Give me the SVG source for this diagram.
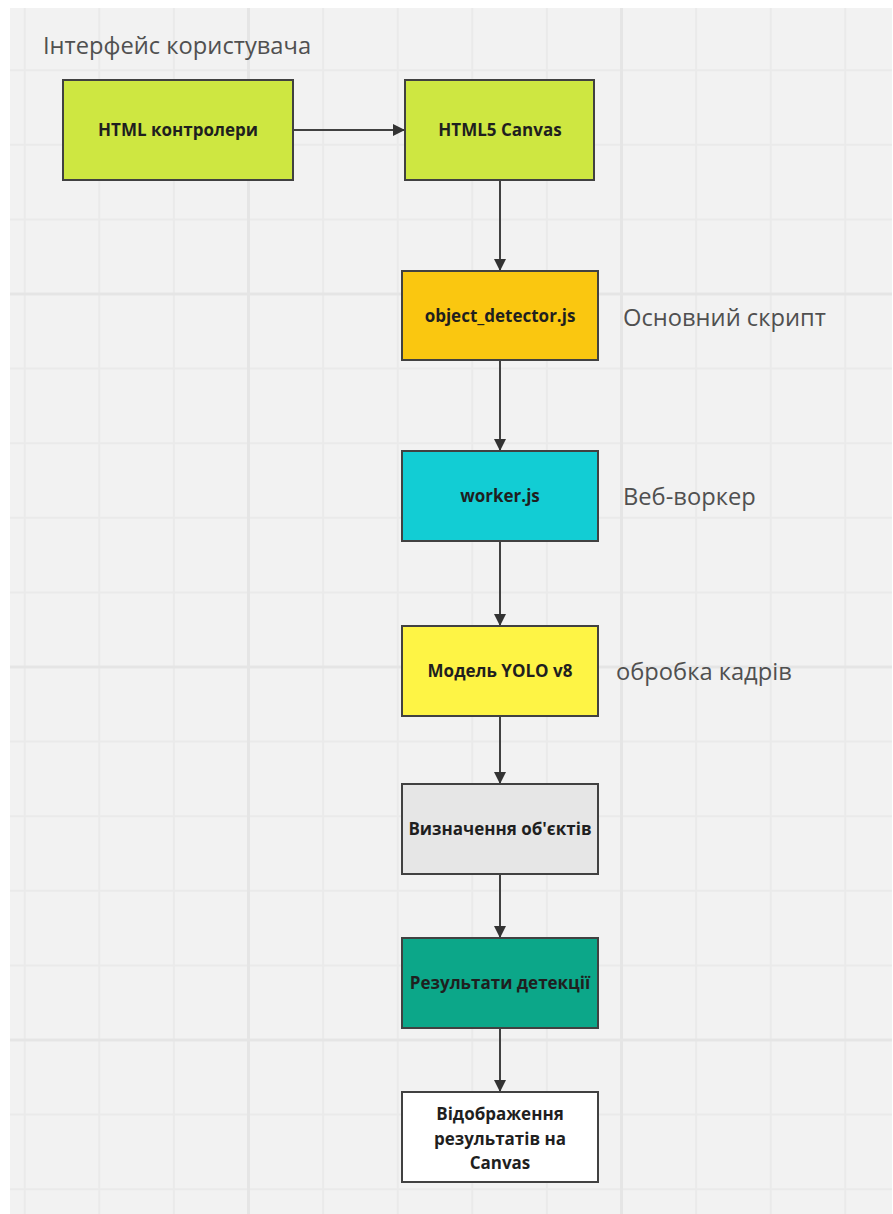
<svg xmlns="http://www.w3.org/2000/svg" width="893" height="1214" viewBox="0 0 893 1214">
<defs>
<style>
.box{stroke:#414141;stroke-width:2}
.t{font-family:"Open Sans","Liberation Sans",sans-serif;font-weight:bold;font-size:17px;fill:#1f1f1f;text-anchor:middle}
.lbl{font-family:"Open Sans","Liberation Sans",sans-serif;font-size:23.7px;fill:#505050}
.conn{stroke:#414141;stroke-width:2;fill:none}
.grid{stroke:#eaeaea;stroke-width:2}
.gridm{stroke:#e5e5e5;stroke-width:3}
</style>
<marker id="ah" viewBox="0 0 12 12" refX="12" refY="6" markerWidth="12" markerHeight="12" markerUnits="userSpaceOnUse" orient="auto">
<path d="M0,0 L12,6 L0,12 Z" fill="#333"/>
</marker>
</defs>
<rect x="0" y="0" width="893" height="1214" fill="#ffffff"/>
<rect x="10" y="8" width="882" height="1206" fill="#f2f2f2"/>
<g id="grid">
<path class="grid" d="M24.7,8V1214M99.3,8V1214M173.9,8V1214M323.1,8V1214M397.7,8V1214M472.3,8V1214M546.9,8V1214M696.1,8V1214M770.7,8V1214M845.3,8V1214"/>
<path class="grid" d="M10,70.2H892M10,144.8H892M10,219.4H892M10,368.6H892M10,443.2H892M10,517.8H892M10,592.4H892M10,741.6H892M10,816.2H892M10,890.8H892M10,965.4H892M10,1114.6H892M10,1189.2H892"/>
<path class="gridm" d="M248.5,8V1214M621.5,8V1214M10,294H892M10,667H892M10,1040H892"/>
</g>
<g id="labels">
<text class="lbl" x="43" y="54">Інтерфейс користувача</text>
<text class="lbl" x="623" y="326">Основний скрипт</text>
<text class="lbl" x="623" y="505">Веб-воркер</text>
<text class="lbl" x="616" y="680">обробка кадрів</text>
</g>
<g id="connectors">
<path class="conn" marker-end="url(#ah)" d="M293,130H405"/>
<path class="conn" marker-end="url(#ah)" d="M500,180V271"/>
<path class="conn" marker-end="url(#ah)" d="M500,360V451"/>
<path class="conn" marker-end="url(#ah)" d="M500,541V626"/>
<path class="conn" marker-end="url(#ah)" d="M500,716V784"/>
<path class="conn" marker-end="url(#ah)" d="M500,874V938"/>
<path class="conn" marker-end="url(#ah)" d="M500,1028V1092"/>
</g>
<g id="html-controls">
<rect class="box" x="63" y="80" width="230" height="100" fill="#cee741"/>
<text class="t" x="178" y="136">HTML контролери</text>
</g>
<g id="html5-canvas">
<rect class="box" x="405" y="80" width="189" height="100" fill="#cee741"/>
<text class="t" x="500" y="136">HTML5 Canvas</text>
</g>
<g id="object-detector">
<rect class="box" x="402" y="271" width="196" height="89" fill="#fac710"/>
<text class="t" x="500" y="322">object_detector.js</text>
</g>
<g id="worker">
<rect class="box" x="402" y="451" width="196" height="90" fill="#12cdd4"/>
<text class="t" x="500" y="502">worker.js</text>
</g>
<g id="yolo">
<rect class="box" x="402" y="626" width="196" height="90" fill="#fef445"/>
<text class="t" x="500" y="677">Модель YOLO v8</text>
</g>
<g id="detection">
<rect class="box" x="402" y="784" width="196" height="90" fill="#e6e6e6"/>
<text class="t" x="500" y="835">Визначення об'єктів</text>
</g>
<g id="results">
<rect class="box" x="402" y="938" width="196" height="90" fill="#0ca789"/>
<text class="t" x="500" y="989">Результати детекції</text>
</g>
<g id="display">
<rect class="box" x="402" y="1092" width="196" height="90" fill="#ffffff"/>
<text class="t" x="500" y="1120">Відображення</text>
<text class="t" x="500" y="1145">результатів на</text>
<text class="t" x="500" y="1169">Canvas</text>
</g>
</svg>
